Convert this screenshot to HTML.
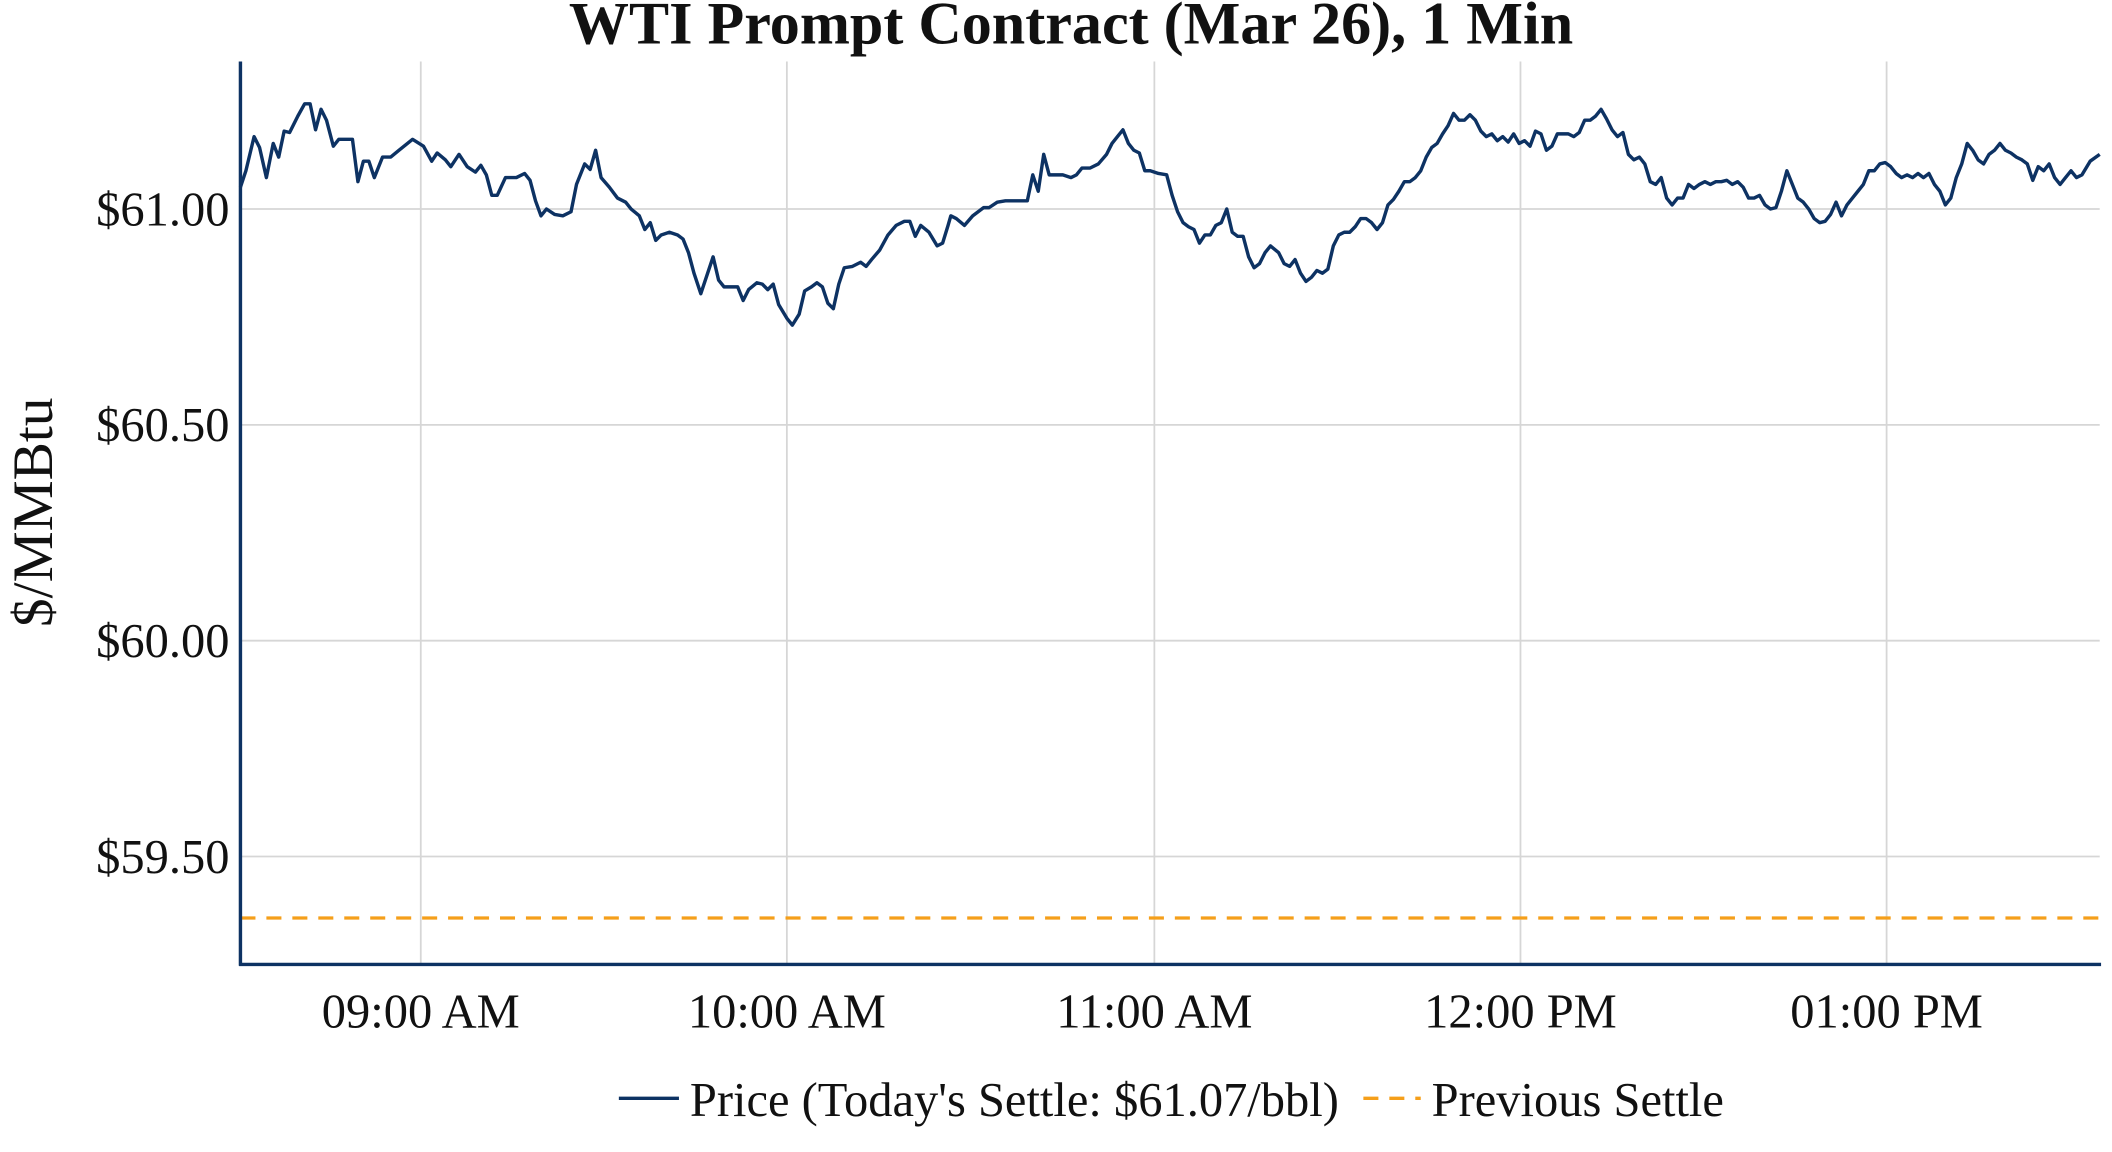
<!DOCTYPE html>
<html><head><meta charset="utf-8"><style>
html,body{margin:0;padding:0;background:#fff;}
svg{display:block;}
text{font-family:"Liberation Serif",serif;fill:#111;}
</style></head><body>
<svg width="2112" height="1152" viewBox="0 0 1546 843.3" preserveAspectRatio="none" xmlns="http://www.w3.org/2000/svg">
<rect width="1546" height="843.3" fill="#fff"/>
<text x="784" y="32" text-anchor="middle" font-size="44" font-weight="bold">WTI Prompt Contract (Mar 26), 1 Min</text>
<g stroke="#d6d6d6" stroke-width="1.3">
<line x1="176" x2="1537" y1="153" y2="153"/><line x1="176" x2="1537" y1="311" y2="311"/>
<line x1="176" x2="1537" y1="469" y2="469"/><line x1="176" x2="1537" y1="627" y2="627"/>
<line x1="308" x2="308" y1="45" y2="706"/><line x1="576" x2="576" y1="45" y2="706"/>
<line x1="845" x2="845" y1="45" y2="706"/><line x1="1113" x2="1113" y1="45" y2="706"/>
<line x1="1381" x2="1381" y1="45" y2="706"/>
</g>
<line x1="176" x2="1537" y1="672" y2="672" stroke="#f59f1a" stroke-width="2.4" stroke-dasharray="11,8"/>
<polyline fill="none" stroke="#0d3263" stroke-width="2.5" stroke-linejoin="round" points="176,137 180,125 186,100 190,108 195,130 200,105 204,115 208,96 212,97 218,85 223,76 227,76 231,95 235,80 239,88 244,107 248,102 252,102 258,102 262,133 266,118 270,118 274,130 280,115 286,115 292,110 302,102 310,107 316,118 320,112 326,117 330,122 336,113 342,122 348,126 352,121 356,128 360,143 364,143 370,130 378,130 384,127 388,132 392,147 396,158 400,153 406,157 412,158 418,155 422,135 428,120 432,124 436,110 440,130 446,137 452,145 458,148 462,153 468,158 472,168 476,163 480,176 484,172 490,170 496,172 500,175 504,185 508,200 513,215 518,200 522,188 526,205 530,210 536,210 540,210 544,220 548,212 554,207 558,208 562,212 566,208 570,223 576,233 580,238 585,230 589,213 594,210 598,207 602,210 606,222 610,226 614,208 618,196 624,195 630,192 634,195 638,190 644,183 650,172 656,165 662,162 666,162 670,173 674,165 680,170 686,180 690,178 694,165 696,158 700,160 706,165 712,158 716,155 720,152 724,152 730,148 736,147 742,147 748,147 752,147 756,128 760,140 764,113 768,128 774,128 778,128 784,130 788,128 792,123 798,123 804,120 810,113 814,105 818,100 822,95 826,105 830,110 834,112 838,125 842,125 848,127 854,128 858,143 862,155 866,163 870,166 874,168 878,178 882,172 886,172 890,165 894,163 898,153 902,170 906,173 910,173 914,188 918,196 922,193 926,185 930,180 936,185 940,193 944,195 948,190 952,200 956,206 960,203 964,198 968,200 972,197 976,180 980,172 984,170 988,170 992,166 996,160 1000,160 1004,163 1008,168 1012,163 1016,150 1020,146 1024,140 1028,133 1032,133 1036,130 1040,125 1044,115 1048,108 1052,105 1056,98 1060,92 1064,83 1068,88 1072,88 1076,84 1080,88 1084,96 1088,100 1092,98 1096,103 1100,100 1104,104 1108,98 1112,105 1116,103 1120,107 1124,96 1128,98 1132,110 1136,107 1140,98 1144,98 1148,98 1152,100 1156,97 1160,88 1164,88 1168,85 1172,80 1176,87 1180,95 1184,100 1188,97 1192,113 1196,117 1200,115 1204,120 1208,133 1212,135 1216,130 1220,145 1224,150 1228,145 1232,145 1236,135 1240,138 1244,135 1248,133 1252,135 1256,133 1260,133 1264,132 1268,135 1272,133 1276,137 1280,145 1284,145 1288,143 1292,150 1296,153 1300,152 1304,140 1308,125 1312,135 1316,145 1320,148 1324,153 1328,160 1332,163 1336,162 1340,157 1344,148 1348,158 1352,150 1356,145 1360,140 1364,135 1368,125 1372,125 1376,120 1380,119 1384,122 1388,127 1392,130 1396,128 1400,130 1404,127 1408,130 1412,127 1416,135 1420,140 1424,150 1428,145 1432,130 1436,120 1440,105 1444,110 1448,117 1452,120 1456,113 1460,110 1464,105 1468,110 1472,112 1476,115 1480,117 1484,120 1488,132 1492,122 1496,125 1500,120 1504,130 1508,135 1512,130 1516,125 1520,130 1524,128 1530,118 1537,113"/>
<line x1="176" x2="176" y1="45" y2="707" stroke="#0d3263" stroke-width="2.5"/>
<line x1="175" x2="1538" y1="706" y2="706" stroke="#0d3263" stroke-width="2.5"/>
<g font-size="35.5" text-anchor="end">
<text x="168" y="165">$61.00</text><text x="168" y="323">$60.50</text>
<text x="168" y="481">$60.00</text><text x="168" y="639">$59.50</text>
</g>
<g font-size="35.5" text-anchor="middle">
<text x="308" y="752">09:00 AM</text><text x="576" y="752">10:00 AM</text>
<text x="845" y="752">11:00 AM</text><text x="1113" y="752">12:00 PM</text>
<text x="1381" y="752">01:00 PM</text>
</g>
<text transform="translate(38,375) rotate(-90)" font-size="42" text-anchor="middle">$/MMBtu</text>
<line x1="453" x2="497" y1="804" y2="804" stroke="#0d3263" stroke-width="2.5"/>
<text x="505" y="817" font-size="35.5">Price (Today's Settle: $61.07/bbl)</text>
<line x1="998" x2="1040" y1="804" y2="804" stroke="#f59f1a" stroke-width="2.5" stroke-dasharray="11,8"/>
<text x="1048" y="817" font-size="35.5">Previous Settle</text>
</svg>
</body></html>
